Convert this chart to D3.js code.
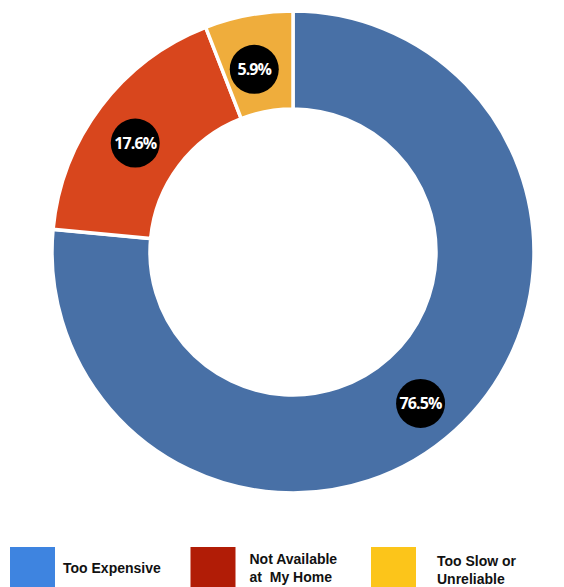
<!DOCTYPE html>
<html>
<head>
<meta charset="utf-8">
<script src="https://cdn.jsdelivr.net/npm/d3@7"></script>
<style>
  html, body { margin: 0; padding: 0; background: #ffffff; }
  svg { display: block; }
</style>
</head>
<body>
<svg id="chart" width="564" height="587"></svg>
<script>
// ---- data ----
const categories = ["Too Expensive", "Not Available at My Home", "Too Slow or Unreliable"];
const values = [76.5, 17.6, 5.9];
const valueLabels = ["76.5%", "17.6%", "5.9%"];
const legendLines = [["Too Expensive"], ["Not Available", "at  My Home"], ["Too Slow or", "Unreliable"]];

// ---- styles ----
const sliceColors = ["#4870a6", "#d8461d", "#efad3c"];
const legendColors = ["#3e84e0", "#b11c06", "#fcc51a"];

const svg = d3.select("#chart");
const cx = 293, cy = 252;
const outerR = 241, innerR = 143;
const labelShiftX = -3, labelShiftY = 8;

const rows = categories.map((c, i) => ({ cat: c, value: values[i], label: valueLabels[i], i }));

const pie = d3.pie().sort(null).value(d => d.value).startAngle(0).endAngle(2 * Math.PI);
const arc = d3.arc().innerRadius(innerR).outerRadius(outerR);
const labelArc = d3.arc().innerRadius(innerR + 2).outerRadius(outerR + 2);

const g = svg.append("g").attr("transform", `translate(${cx},${cy})`);
const arcs = pie(rows);

g.selectAll("path.slice")
  .data(arcs)
  .join("path")
  .attr("class", "slice")
  .attr("d", arc)
  .attr("fill", d => sliceColors[d.data.i])
  .attr("stroke", "#ffffff")
  .attr("stroke-width", 3.5)
  .attr("stroke-linejoin", "miter");

const lab = g.selectAll("g.lab")
  .data(arcs)
  .join("g")
  .attr("class", "lab")
  .attr("transform", d => {
    const [x, y] = labelArc.centroid(d);
    return `translate(${x + labelShiftX},${y + labelShiftY})`;
  });

lab.append("circle")
  .attr("r", 24.5)
  .attr("fill", "#000000");

lab.append("text")
  .attr("text-anchor", "middle")
  .attr("dy", "0.36em")
  .attr("fill", "#ffffff")
  .style("font-family", "'Open Sans', 'DejaVu Sans', sans-serif")
  .style("font-weight", "700")
  .style("font-size", "16px")
  .style("letter-spacing", "-0.9px")
  .text(d => d.data.label);

// ---- legend ----
const legendX = d3.scalePoint().domain(d3.range(categories.length)).range([10, 371]);
const textOffsets = [53, 59, 66];
const firstBaselines = [25.5, 16.5, 18.5];
const leg = svg.selectAll("g.legend")
  .data(rows)
  .join("g")
  .attr("class", "legend")
  .attr("transform", d => `translate(${legendX(d.i)},547)`);

leg.append("rect")
  .attr("width", 45)
  .attr("height", 42)
  .attr("fill", d => legendColors[d.i]);

leg.each(function(d) {
  const lines = legendLines[d.i];
  const t = d3.select(this).append("text")
    .attr("fill", "#111111")
    .style("font-family", "'Liberation Sans', Arial, sans-serif")
    .style("font-weight", "700")
    .style("font-size", "14px")
    .style("white-space", "pre");
  lines.forEach((ln, k) => {
    t.append("tspan")
      .attr("x", textOffsets[d.i])
      .attr("y", firstBaselines[d.i] + k * 18.5)
      .text(ln);
  });
});
</script>
</body>
</html>
